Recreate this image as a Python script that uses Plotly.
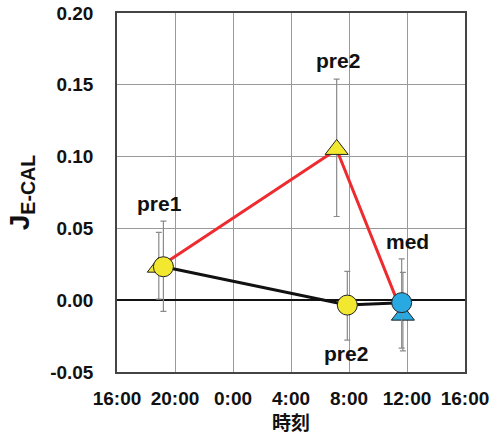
import plotly.graph_objects as go

# --- data ---
tri_times = ["2024-01-01 18:53", "2024-01-02 07:09", "2024-01-02 11:43"]
tri_vals = [0.023, 0.105, -0.0104]
tri_err_plus = [0.0242, 0.049, 0.0298]
tri_err_minus = [0.0223, 0.0467, 0.0249]
tri_colors = ["#F2E830", "#F2E830", "#29A9E1"]

cir_times = ["2024-01-01 19:12", "2024-01-02 07:53", "2024-01-02 11:38"]
cir_vals = [0.0233, -0.0034, -0.0017]
cir_err_plus = [0.0317, 0.0235, 0.0305]
cir_err_minus = [0.0311, 0.0244, 0.0317]
cir_colors = ["#F2E830", "#F2E830", "#29A9E1"]

x_tickvals = ["2024-01-01 16:00", "2024-01-01 20:00", "2024-01-02 00:00",
              "2024-01-02 04:00", "2024-01-02 08:00", "2024-01-02 12:00",
              "2024-01-02 16:00"]
x_ticktext = ["16:00", "20:00", "0:00", "4:00", "8:00", "12:00", "16:00"]
y_tickvals = [-0.05, 0.0, 0.05, 0.10, 0.15, 0.20]
y_ticktext = ["-0.05", "0.00", "0.05", "0.10", "0.15", "0.20"]

label_texts = ["pre1", "pre2", "med", "pre2"]
label_times = ["2024-01-01 18:54", "2024-01-02 07:14", "2024-01-02 12:00", "2024-01-02 07:48"]
label_vals = [0.0674, 0.1672, 0.0409, -0.0374]

FONT = "Liberation Sans, Arial, sans-serif"

fig = go.Figure()

fig.add_trace(go.Scatter(
    x=tri_times, y=tri_vals, mode="lines+markers",
    line=dict(color="#EE2B2F", width=3),
    marker=dict(symbol="triangle-up", size=20, color=tri_colors,
                line=dict(color="#222222", width=1)),
    error_y=dict(type="data", symmetric=False, array=tri_err_plus,
                 arrayminus=tri_err_minus, color="#8a8a8a", thickness=1.2, width=3),
    showlegend=False,
))

fig.add_trace(go.Scatter(
    x=cir_times, y=cir_vals, mode="lines+markers",
    line=dict(color="#111111", width=3),
    marker=dict(symbol="circle", size=20, color=cir_colors,
                line=dict(color="#222222", width=1)),
    error_y=dict(type="data", symmetric=False, array=cir_err_plus,
                 arrayminus=cir_err_minus, color="#8a8a8a", thickness=1.2, width=3),
    showlegend=False,
))

for t, xv, yv in zip(label_texts, label_times, label_vals):
    fig.add_annotation(x=xv, y=yv, text=t, showarrow=False,
                       font=dict(family=FONT, size=21, color="#111111", weight="bold"),
                       xanchor="center", yanchor="middle")

fig.update_layout(
    width=491, height=435,
    margin=dict(l=117, r=26, t=13, b=63),
    paper_bgcolor="white", plot_bgcolor="white",
    font=dict(family=FONT, color="#111111"),
)

fig.update_xaxes(
    type="date", automargin=False,
    range=["2024-01-01 16:00", "2024-01-02 16:00"],
    tickvals=x_tickvals, ticktext=x_ticktext,
    tickfont=dict(family=FONT, size=19, color="#111111", weight="bold"),
    showgrid=True, gridcolor="#9a9a9a", gridwidth=1,
    showline=True, linecolor="#444444", linewidth=1.5, mirror=True,
    ticks="", ticklabelstandoff=8, ticklabeloverflow="allow",
    title=dict(text="時刻", font=dict(family="Noto Sans CJK JP", size=19, color="#111111", weight="bold"),
               standoff=4),
    zeroline=False,
)

fig.update_yaxes(
    automargin=False,
    range=[-0.05, 0.20],
    tickvals=y_tickvals, ticktext=y_ticktext,
    tickfont=dict(family=FONT, size=19, color="#111111", weight="bold"),
    showgrid=True, gridcolor="#9a9a9a", gridwidth=1,
    showline=True, linecolor="#444444", linewidth=1.5, mirror=True,
    ticks="", ticklabelstandoff=18, ticklabeloverflow="allow",
    zeroline=True, zerolinecolor="#111111", zerolinewidth=2,
    title=dict(text="J<sub>E-CAL</sub>", font=dict(family=FONT, size=28, color="#111111", weight="bold"),
               standoff=12),
)

fig.write_html("out.html", config={"displayModeBar": False},
               post_script="document.body.style.margin='0';")
